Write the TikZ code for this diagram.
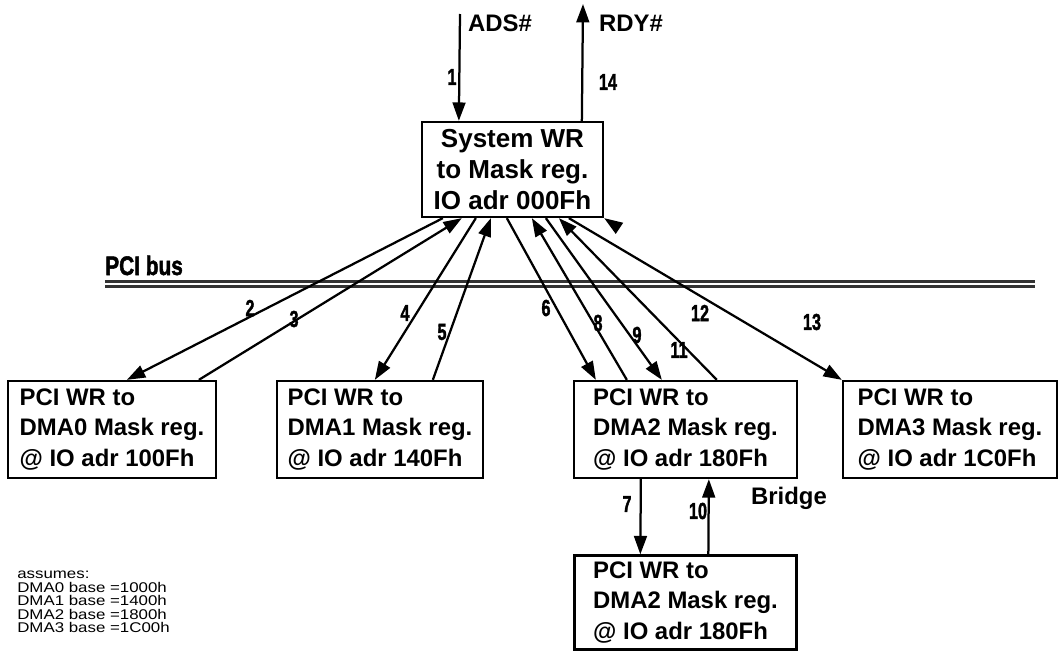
\documentclass[tikz,border=0pt]{standalone}
\usepackage{fontspec}
\setmainfont{Liberation Sans}
\newfontfamily\heavyfont[BoldFeatures={FakeBold=2}]{Liberation Sans}
\usepackage{tikz}
\usetikzlibrary{arrows.meta,positioning,calc}
\newcommand{\stepno}[1]{\scalebox{0.7}[1]{\heavyfont\bfseries #1}}

\begin{document}
\begin{tikzpicture}[x=0.025cm,y=-0.025cm,
  regbox/.style={draw,line width=1.6pt,align=left,inner sep=0pt,
    minimum height=2.425cm,font=\fontsize{17}{21.7}\selectfont\bfseries},
  sig/.style={inner sep=0pt,font=\fontsize{17}{20}\selectfont\bfseries},
  stepnum/.style={inner sep=0pt,font=\fontsize{16.5}{16.5}\selectfont},
  bus/.style={draw=black!80,line width=2.2pt,double=white,double distance=0.8pt},
  arr/.style={-{Triangle[length=0.46cm,width=0.32cm]},line width=1.6pt}]
\useasboundingbox (0,0) rectangle (1060,651);
\node[regbox,align=center,minimum width=4.525cm,minimum height=2.375cm,
  font=\fontsize{18.5}{22}\selectfont\bfseries] (sys) at (512.5,169.5)
  {System WR\\to Mask reg.\\IO adr 000Fh};
\node[regbox,minimum width=5.2cm] (dma0) at (112,429.5) {PCI WR to\\DMA0 Mask reg.\\@ IO adr 100Fh};
\node[regbox,minimum width=5.15cm] (dma1) at (380,429.5) {PCI WR to\\DMA1 Mask reg.\\@ IO adr 140Fh};
\node[regbox,minimum width=5.575cm] (dma2) at (685.5,429.5) {PCI WR to\\DMA2 Mask reg.\\@ IO adr 180Fh};
\node[regbox,minimum width=5.35cm] (dma3) at (950,429.5) {PCI WR to\\DMA3 Mask reg.\\@ IO adr 1C0Fh};
\node[regbox,minimum width=5.55cm,minimum height=2.35cm,below=1.88cm of dma2] (dma2b) {PCI WR to\\DMA2 Mask reg.\\@ IO adr 180Fh};
\node[sig] (bridge) at (789,498) {Bridge};

% host signals
\coordinate (ads) at (460,14);
\coordinate (rdy) at (583,4);
\node[sig] (adslbl) at (500,23) {ADS\#};
\node[sig] (rdylbl) at (631,23) {RDY\#};
\draw[arr] (ads) -- ($(sys.north west)+(38,0)$);
\draw[arr] ($(sys.north west)+(161,0)$) -- (rdy);

% PCI bus
\coordinate (busw) at (105,284);
\coordinate (buse) at (1035,284);
\draw[bus] (busw) -- (buse);
\node[anchor=base west,inner sep=0pt] (buslbl) at (105,275)
  {\scalebox{0.78}[1]{\fontsize{19}{19}\selectfont\heavyfont\bfseries PCI bus}};

% cycles on the bus
\draw[arr] ($(sys.south west)+(22,0)$) -- ($(dma0.north west)+(120,0)$);
\draw[arr] ($(dma0.north west)+(192,0)$) -- ($(sys.south west)+(41,0)$);
\draw[arr] ($(sys.south west)+(55,0)$) -- ($(dma1.north west)+(99,0)$);
\draw[arr] ($(dma1.north west)+(157,0)$) -- ($(sys.south west)+(70,0)$);
\draw[arr] ($(sys.south west)+(86,0)$) -- ($(dma2.north west)+(23,0)$);
\draw[arr] ($(dma2.north west)+(54,0)$) -- ($(sys.south west)+(111,0)$);
\draw[arr] ($(sys.south west)+(125,0)$) -- ($(dma2.north west)+(89,0)$);
\draw[arr] ($(dma2.north west)+(144,0)$) -- ($(sys.south west)+(138,0)$);
\draw[arr] ($(sys.south west)+(148,0)$) -- (dma3.north west);
\draw[arr] ($(sys.south east)+(15,10)$) -- (sys.south east);

% behind the bridge
\draw[arr] ($(dma2.south west)+(68,0)$) -- ($(dma2b.north west)+(67,0)$);
\draw[arr] ($(dma2b.north west)+(135,0)$) -- ($(dma2.south west)+(136,0)$);

\node[stepnum] (n1) at (452,77) {\stepno{1}};
\node[stepnum] (n2) at (250,308) {\stepno{2}};
\node[stepnum] (n3) at (294,319) {\stepno{3}};
\node[stepnum] (n4) at (405,313) {\stepno{4}};
\node[stepnum] (n5) at (442,332) {\stepno{5}};
\node[stepnum] (n6) at (546,308) {\stepno{6}};
\node[stepnum] (n7) at (627,504) {\stepno{7}};
\node[stepnum] (n8) at (598,323) {\stepno{8}};
\node[stepnum] (n9) at (637,335) {\stepno{9}};
\node[stepnum] (n10) at (698,511) {\stepno{10}};
\node[stepnum] (n11) at (679,350) {\stepno{11}};
\node[stepnum] (n12) at (700,313) {\stepno{12}};
\node[stepnum] (n13) at (812,322) {\stepno{13}};
\node[stepnum] (n14) at (608,82) {\stepno{14}};

\node[anchor=north west,align=left,inner sep=0pt,font=\fontsize{10}{9.6}\selectfont]
  (note) at (17,571) {\scalebox{1.2}[1]{assumes:}\\\scalebox{1.2}[1]{DMA0 base =1000h}\\\scalebox{1.2}[1]{DMA1 base =1400h}\\\scalebox{1.2}[1]{DMA2 base =1800h}\\\scalebox{1.2}[1]{DMA3 base =1C00h}};
\end{tikzpicture}
\end{document}
